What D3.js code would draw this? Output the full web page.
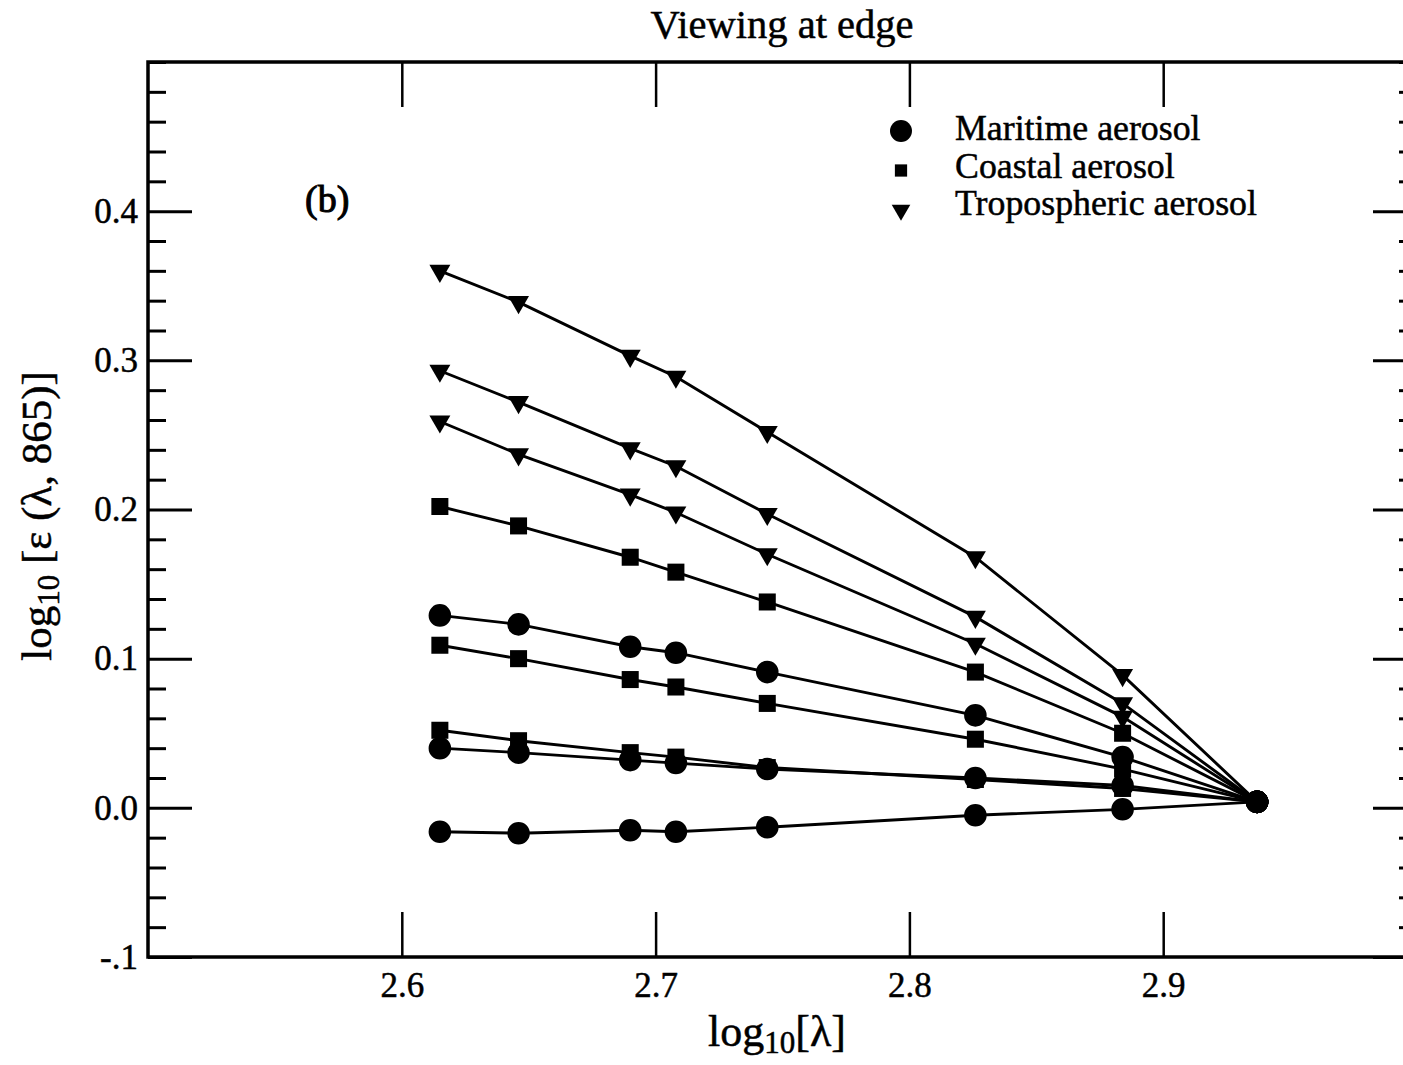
<!DOCTYPE html>
<html>
<head>
<meta charset="utf-8">
<script src="https://d3js.org/d3.v7.min.js"></script>
<style>
  html, body { margin: 0; padding: 0; background: #fff; }
  svg { display: block; }
  text { font-family: "Liberation Serif", "Times New Roman", serif; fill: #000; stroke: #000; stroke-width: 0.5px; }
</style>
</head>
<body>
<svg id="chart" width="1403" height="1065"></svg>
<script>
// ---- data ----
const logLambda = [2.615, 2.646, 2.690, 2.708, 2.744, 2.826, 2.884, 2.937];

const tropo1   = [0.360, 0.339, 0.303, 0.289, 0.252, 0.168, 0.089, 0.004];
const tropo2   = [0.293, 0.272, 0.241, 0.229, 0.197, 0.128, 0.070, 0.004];
const tropo3   = [0.259, 0.237, 0.210, 0.198, 0.170, 0.110, 0.061, 0.004];
const coastal1 = [0.202, 0.189, 0.168, 0.158, 0.138, 0.091, 0.050, 0.004];
const marit1   = [0.129, 0.123, 0.108, 0.104, 0.091, 0.062, 0.034, 0.004];
const coastal2 = [0.109, 0.100, 0.086, 0.081, 0.070, 0.046, 0.026, 0.004];
const coastal3 = [0.052, 0.045, 0.037, 0.034, 0.027, 0.019, 0.013, 0.004];
const marit2   = [0.040, 0.037, 0.032, 0.030, 0.026, 0.020, 0.015, 0.004];
const marit3   = [-0.016, -0.017, -0.015, -0.016, -0.013, -0.005, -0.001, 0.004];

const seriesList = [
  {type: "tropospheric", values: tropo1},
  {type: "tropospheric", values: tropo2},
  {type: "tropospheric", values: tropo3},
  {type: "coastal", values: coastal1},
  {type: "maritime", values: marit1},
  {type: "coastal", values: coastal2},
  {type: "coastal", values: coastal3},
  {type: "maritime", values: marit2},
  {type: "maritime", values: marit3}
];

const legendLabels = ["Maritime aerosol", "Coastal aerosol", "Tropospheric aerosol"];
const legendTypes  = ["maritime", "coastal", "tropospheric"];

const xTickValues = [2.6, 2.7, 2.8, 2.9];
const xTickLabels = ["2.6", "2.7", "2.8", "2.9"];
const yTickValues = [-0.1, 0.0, 0.1, 0.2, 0.3, 0.4];
const yTickLabels = ["-.1", "0.0", "0.1", "0.2", "0.3", "0.4"];

const titleText = "Viewing at edge";
const panelLabel = "(b)";

// ---- layout ----
const svg = d3.select("#chart");
const pL = 148, pR = 1417, pT = 62, pB = 957;

const x = d3.scaleLinear().domain([2.5, 3.0]).range([pL, pR]);
const y = d3.scaleLinear().domain([-0.1, 0.5]).range([pB, pT]);

const yMinor = d3.range(-0.1, 0.5001, 0.02).map(v => +v.toFixed(2)).filter(v => !yTickValues.some(t => Math.abs(t - v) < 1e-6));

// minor y ticks left & right
svg.append("g").attr("transform", `translate(${pL},0)`)
  .call(d3.axisLeft(y).tickValues(yMinor).tickSize(-18).tickSizeOuter(0).tickFormat(""))
  .call(g => g.select(".domain").remove())
  .selectAll("line").attr("stroke", "#000").attr("stroke-width", 3);
svg.append("g").attr("transform", `translate(${pR},0)`)
  .call(d3.axisRight(y).tickValues(yMinor).tickSize(-18).tickSizeOuter(0).tickFormat(""))
  .call(g => g.select(".domain").remove())
  .selectAll("line").attr("stroke", "#000").attr("stroke-width", 3);

// major y ticks
const yAxisL = svg.append("g").attr("transform", `translate(${pL},0)`)
  .call(d3.axisLeft(y).tickValues(yTickValues).tickSize(-44).tickSizeOuter(0).tickPadding(10)
    .tickFormat((d, i) => yTickLabels[i]));
yAxisL.select(".domain").remove();
yAxisL.selectAll("line").attr("stroke", "#000").attr("stroke-width", 3);
yAxisL.selectAll("text").attr("font-size", 35).attr("font-family", "Liberation Serif, serif").attr("fill", "#000");

svg.append("g").attr("transform", `translate(${pR},0)`)
  .call(d3.axisRight(y).tickValues(yTickValues).tickSize(-44).tickSizeOuter(0).tickFormat(""))
  .call(g => g.select(".domain").remove())
  .selectAll("line").attr("stroke", "#000").attr("stroke-width", 3);

// x ticks bottom & top
const xAxisB = svg.append("g").attr("transform", `translate(0,${pB})`)
  .call(d3.axisBottom(x).tickValues(xTickValues).tickSize(-45).tickSizeOuter(0).tickPadding(15)
    .tickFormat((d, i) => xTickLabels[i]));
xAxisB.select(".domain").remove();
xAxisB.selectAll("line").attr("stroke", "#000").attr("stroke-width", 2.5);
xAxisB.selectAll("text").attr("font-size", 35).attr("font-family", "Liberation Serif, serif").attr("fill", "#000");

svg.append("g").attr("transform", `translate(0,${pT})`)
  .call(d3.axisTop(x).tickValues(xTickValues).tickSize(-45).tickSizeOuter(0).tickFormat(""))
  .call(g => g.select(".domain").remove())
  .selectAll("line").attr("stroke", "#000").attr("stroke-width", 2.5);

// frame
svg.append("rect")
  .attr("x", pL).attr("y", pT)
  .attr("width", pR - pL).attr("height", pB - pT)
  .attr("fill", "none").attr("stroke", "#000").attr("stroke-width", 3.5);

// lines
const line = d3.line().x((d, i) => x(logLambda[i])).y(d => y(d));
svg.append("g").selectAll("path").data(seriesList).join("path")
  .attr("d", s => line(s.values))
  .attr("fill", "none").attr("stroke", "#000").attr("stroke-width", 2.9);

// markers
const symbolFor = {
  maritime: d3.symbol().type(d3.symbolCircle).size(400),
  coastal: d3.symbol().type(d3.symbolSquare).size(290),
  tropospheric: d3.symbol().type(d3.symbolTriangle).size(190)
};
const markerG = svg.append("g");
seriesList.forEach(s => {
  s.values.forEach((v, i) => {
    const last = i === s.values.length - 1;
    const t = last ? "maritime" : s.type;
    markerG.append("path")
      .attr("d", symbolFor[t]())
      .attr("transform", `translate(${x(logLambda[i])},${y(v)})` + (t === "tropospheric" ? " rotate(180)" : ""))
      .attr("fill", "#000");
  });
});

// legend
const legendSymbols = {
  maritime: d3.symbol().type(d3.symbolCircle).size(380),
  coastal: d3.symbol().type(d3.symbolSquare).size(150),
  tropospheric: d3.symbol().type(d3.symbolTriangle).size(150)
};
const lg = svg.append("g");
legendLabels.forEach((lab, i) => {
  const cy = 131 + i * 39.5;
  lg.append("path")
    .attr("d", legendSymbols[legendTypes[i]]())
    .attr("transform", `translate(901,${cy})` + (legendTypes[i] === "tropospheric" ? " rotate(180)" : ""))
    .attr("fill", "#000");
  lg.append("text").attr("x", 955).attr("y", 140 + i * 37.5)
    .attr("font-size", 35.8).text(lab);
});

// panel label
svg.append("text").attr("x", 305).attr("y", 212).attr("font-size", 38)
  .style("stroke-width", "1px").text(panelLabel);

// title
svg.append("text").attr("x", 782).attr("y", 38).attr("text-anchor", "middle")
  .attr("font-size", 40.5).text(titleText);

// x axis label
const xl = svg.append("text").attr("x", 777).attr("y", 1046).attr("text-anchor", "middle").attr("font-size", 44);
xl.append("tspan").text("log");
xl.append("tspan").attr("font-size", 31).attr("dy", 7).text("10");
xl.append("tspan").attr("dy", -7).text("[λ]");

// y axis label
const yl = svg.append("text").attr("transform", "translate(51,516) rotate(-90)")
  .attr("text-anchor", "middle").attr("font-size", 43);
yl.append("tspan").text("log");
yl.append("tspan").attr("font-size", 31).attr("dy", 8).text("10");
yl.append("tspan").attr("dy", -8).text(" [ε (λ, 865)]");
</script>
</body>
</html>
